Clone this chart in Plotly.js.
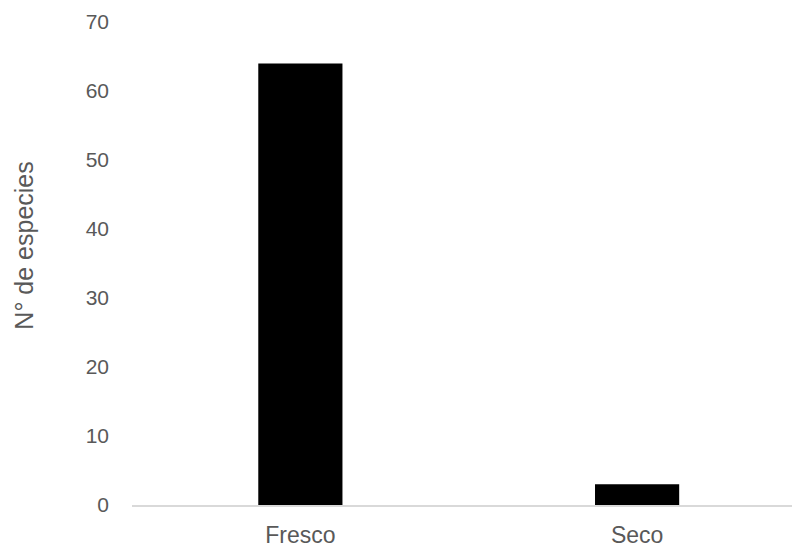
<!DOCTYPE html>
<html>
<head>
<meta charset="utf-8">
<script src="https://cdn.plot.ly/plotly-3.0.1.min.js"></script>
<style>html,body{margin:0;padding:0;background:#fff;}#chart{width:792px;height:549px;}</style>
</head>
<body>
<div id="chart"></div>
<script>
const categories = ["Fresco", "Seco"];
const values = [64, 3];
const yTicks = [0, 10, 20, 30, 40, 50, 60, 70];
const yTitle = "N° de especies";

const trace = {
  type: "bar",
  x: categories,
  y: values,
  width: 0.25,
  marker: {color: "#000000"},
  hoverinfo: "x+y"
};

const layout = {
  width: 792,
  height: 549,
  margin: {l: 132, r: 0, t: 22, b: 44, pad: 0},
  paper_bgcolor: "#ffffff",
  plot_bgcolor: "#ffffff",
  showlegend: false,
  font: {family: "Liberation Sans, Arial, sans-serif", color: "#595959"},
  xaxis: {
    type: "category",
    range: [-0.5, 1.46],
    showgrid: false,
    zeroline: false,
    showline: true,
    linecolor: "#d9d9d9",
    linewidth: 1.5,
    ticks: "",
    ticklabelstandoff: 9,
    tickfont: {size: 23, color: "#595959"}
  },
  yaxis: {
    range: [0, 70],
    tickvals: yTicks,
    ticktext: yTicks.map(String),
    showgrid: false,
    zeroline: false,
    showline: false,
    ticks: "",
    ticklabelstandoff: 22,
    tickfont: {size: 21, color: "#595959"}
  },
  annotations: [{
    text: yTitle,
    xref: "paper", yref: "paper",
    x: -0.1636, y: 0.537,
    xanchor: "center", yanchor: "middle",
    textangle: -90,
    showarrow: false,
    font: {size: 25, color: "#595959"}
  }]
};

Plotly.newPlot("chart", [trace], layout, {displayModeBar: false, staticPlot: true});
</script>
</body>
</html>
